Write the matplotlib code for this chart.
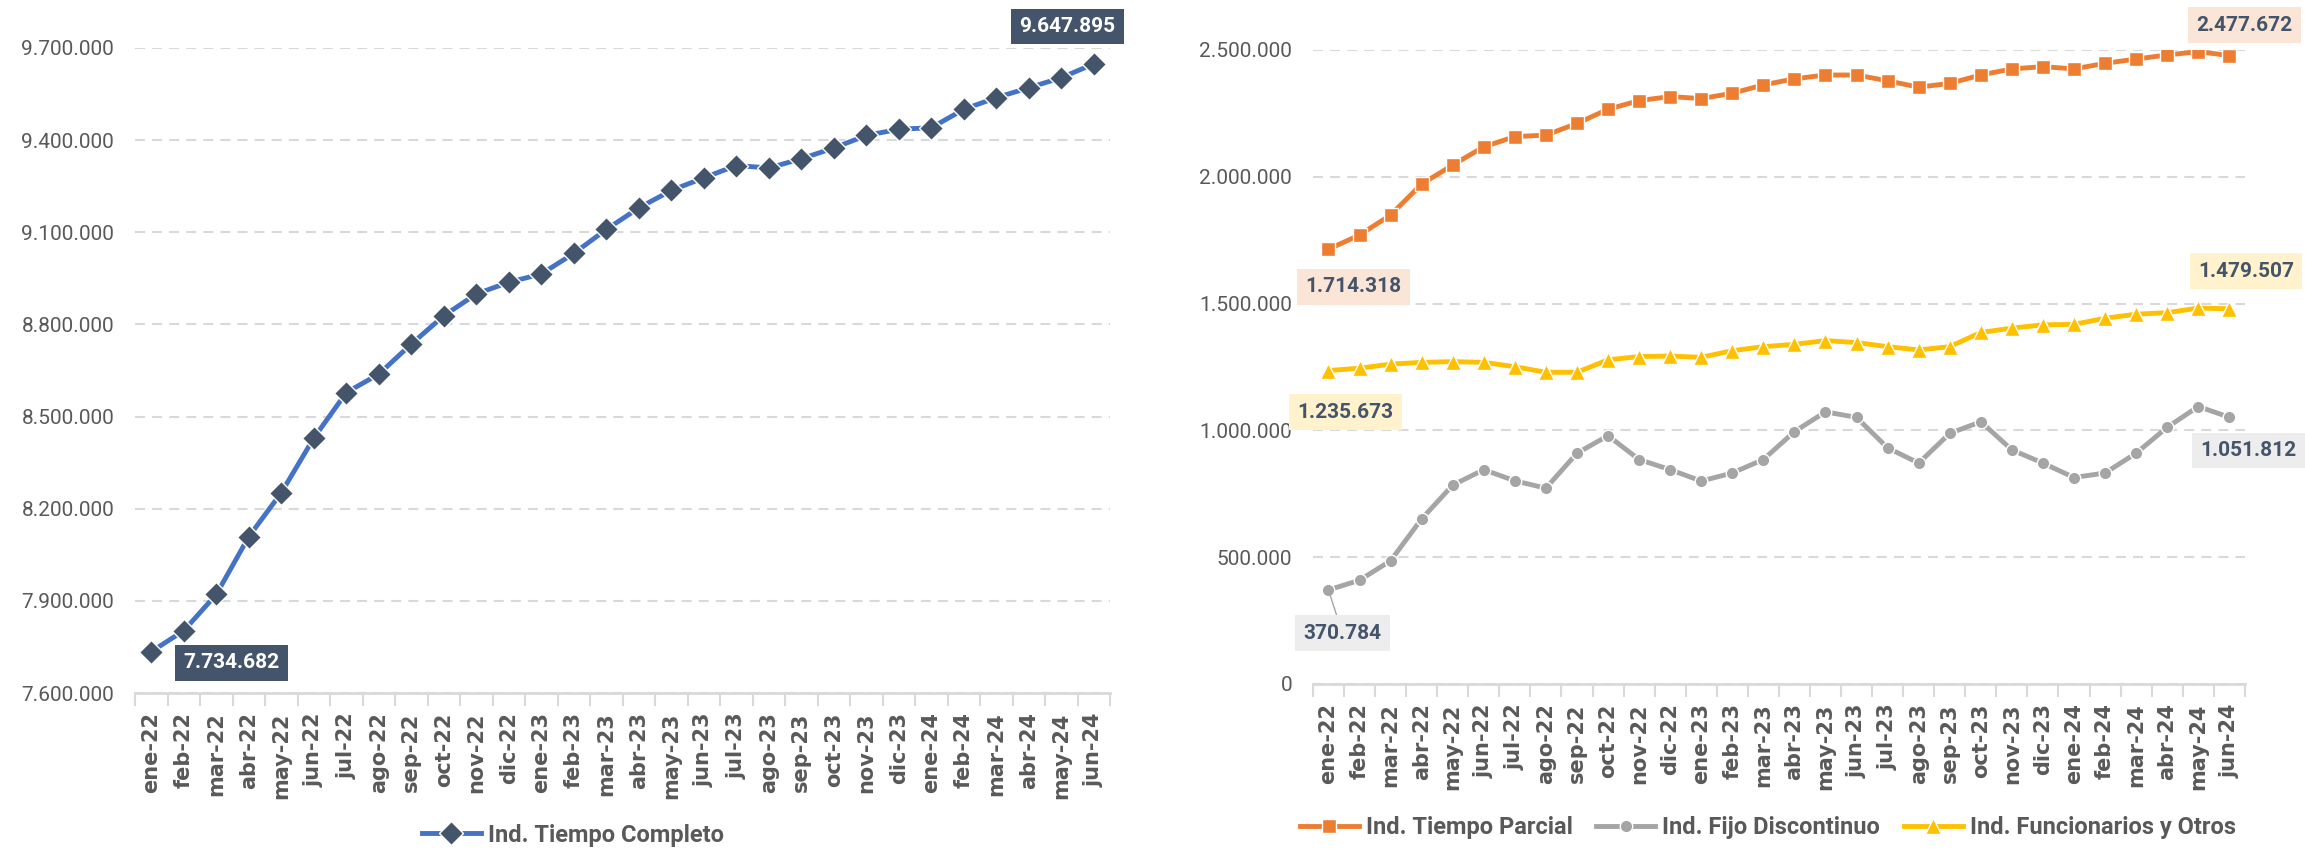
import numpy as np
import matplotlib.pyplot as plt
from matplotlib.ticker import FuncFormatter

meses = ['ene-22', 'feb-22', 'mar-22', 'abr-22', 'may-22', 'jun-22', 'jul-22', 'ago-22', 'sep-22', 'oct-22',
         'nov-22', 'dic-22', 'ene-23', 'feb-23', 'mar-23', 'abr-23', 'may-23', 'jun-23', 'jul-23', 'ago-23',
         'sep-23', 'oct-23', 'nov-23', 'dic-23', 'ene-24', 'feb-24', 'mar-24', 'abr-24', 'may-24', 'jun-24']

# valores (miles aproximados, extremos exactos)
tiempo_completo = [7734682, 7803000, 7921000, 8109000, 8252000, 8430000, 8578000, 8638000, 8736000, 8828000,
                   8899000, 8937000, 8964000, 9031000, 9109000, 9179000, 9236000, 9277000, 9317000, 9309000,
                   9339000, 9374000, 9415000, 9435000, 9440000, 9500000, 9538000, 9570000, 9603000, 9647895]

tiempo_parcial = [1714318, 1770000, 1849000, 1971000, 2046000, 2118000, 2158000, 2164000, 2210000, 2266000,
                  2300000, 2316000, 2308000, 2329000, 2362000, 2386000, 2401000, 2401000, 2378000, 2353000,
                  2368000, 2401000, 2425000, 2434000, 2425000, 2447000, 2464000, 2480000, 2493000, 2477672]

fijo_discontinuo = [370784, 409000, 486000, 651000, 784000, 845000, 801000, 772000, 910000, 979000,
                    885000, 845000, 800000, 832000, 885000, 995000, 1073000, 1051000, 931000, 871000,
                    988000, 1034000, 923000, 871000, 814000, 832000, 910000, 1012000, 1094000, 1051812]

funcionarios = [1235673, 1245000, 1261000, 1268000, 1271000, 1268000, 1251000, 1229000, 1229000, 1278000,
                1291000, 1293000, 1288000, 1314000, 1330000, 1339000, 1354000, 1346000, 1330000, 1317000,
                1330000, 1386000, 1403000, 1416000, 1418000, 1442000, 1458000, 1464000, 1482000, 1479507]

GRIS_TEXTO = '#595959'
GRIS_LINEA = '#D9D9D9'
NAVY = '#44546A'
FUENTE = 'Roboto'


def miles(v, pos=None):
    return f'{v:,.0f}'.replace(',', '.')


def estilo(ax, ymin, ymax, paso):
    n = len(meses)
    x = np.arange(n)
    ax.set_xlim(-0.5, n - 0.5)
    ax.set_ylim(ymin, ymax)
    ax.set_yticks(np.arange(ymin, ymax + 1, paso))
    ax.yaxis.set_major_formatter(FuncFormatter(miles))
    ax.grid(axis='y', color=GRIS_LINEA, linestyle=(0, (4.8, 3.4)), linewidth=1.5)
    ax.set_axisbelow(True)
    for s in ['top', 'right', 'left']:
        ax.spines[s].set_visible(False)
    ax.spines['bottom'].set_color(GRIS_LINEA)
    ax.spines['bottom'].set_linewidth(2)
    ax.set_xticks(x)
    ax.set_xticklabels(meses, rotation=90, fontsize=15, fontweight='bold', color=GRIS_TEXTO,
                       family='DejaVu Sans', ha='center', va='top')
    ax.set_xticks(np.arange(-0.5, n), minor=True)
    ax.tick_params(axis='x', which='major', length=0, pad=14)
    ax.tick_params(axis='x', which='minor', length=9, color=GRIS_LINEA, width=1.5)
    ax.tick_params(axis='y', length=0, pad=15, labelsize=15, labelcolor=GRIS_TEXTO)
    for t in ax.get_yticklabels():
        t.set_family(FUENTE)


def etiqueta(ax, i, serie, dx, dy, fondo, color_texto, linea=None):
    flecha = None
    if linea:
        flecha = dict(arrowstyle='-', color=linea, lw=1, shrinkA=0, shrinkB=4)
    ax.annotate(miles(serie[i]), xy=(i, serie[i]), xytext=(dx, dy), textcoords='offset points',
                ha='center', va='center', fontsize=15, fontweight='bold', family=FUENTE,
                color=color_texto, bbox=dict(boxstyle='square,pad=0.4', fc=fondo, ec='none'),
                arrowprops=flecha, annotation_clip=False, zorder=6)


leyenda = {'family': FUENTE, 'weight': 'bold', 'size': 17}

fig = plt.figure(figsize=(23.05, 8.5), dpi=100)
x = np.arange(len(meses))

# panel izquierdo
ax1 = fig.add_axes([0.0586, 0.1847, 0.423, 0.759])
estilo(ax1, 7600000, 9700000, 300000)
ax1.plot(x, tiempo_completo, color='#4472C4', lw=3.5, marker='D', ms=12, mfc=NAVY, mec='white', mew=1,
         label='Ind. Tiempo Completo', zorder=3)
etiqueta(ax1, 0, tiempo_completo, 58, -8, NAVY, 'white')
etiqueta(ax1, len(meses) - 1, tiempo_completo, -19, 27, NAVY, 'white')
ax1.legend(loc='center', bbox_to_anchor=(0.2486, 0.0176), bbox_transform=fig.transFigure, frameon=False,
           prop=leyenda, labelcolor=GRIS_TEXTO, handlelength=2.5, handletextpad=0.3)

# panel derecho
ax2 = fig.add_axes([0.5696, 0.1953, 0.4043, 0.746])
estilo(ax2, 0, 2500000, 500000)
ax2.plot(x, tiempo_parcial, color='#ED7D31', lw=3.5, marker='s', ms=10, mfc='#ED7D31', mec='white', mew=1,
         label='Ind. Tiempo Parcial', zorder=3)
ax2.plot(x, fijo_discontinuo, color='#A5A5A5', lw=3.5, marker='o', ms=9, mfc='#A5A5A5', mec='white', mew=1,
         label='Ind. Fijo Discontinuo', zorder=3)
ax2.plot(x, funcionarios, color='#FFC000', lw=3.5, marker='^', ms=11, mfc='#FFC000', mec='white', mew=1,
         label='Ind. Funcionarios y Otros', zorder=3)
ult = len(meses) - 1
etiqueta(ax2, 0, tiempo_parcial, 18, -27, '#FBE5D6', NAVY)
etiqueta(ax2, ult, tiempo_parcial, 11, 22, '#FBE5D6', NAVY)
etiqueta(ax2, 0, funcionarios, 12, -30, '#FFF2CC', NAVY)
etiqueta(ax2, ult, funcionarios, 12, 27, '#FFF2CC', NAVY)
etiqueta(ax2, 0, fijo_discontinuo, 10, -31, '#EDEDED', NAVY, linea='#A5A5A5')
etiqueta(ax2, ult, fijo_discontinuo, 14, -24, '#EDEDED', NAVY)
ax2.legend(loc='center', bbox_to_anchor=(0.767, 0.026), bbox_transform=fig.transFigure, frameon=False, ncol=3,
           prop=leyenda, labelcolor=GRIS_TEXTO, handlelength=2.5, handletextpad=0.3, columnspacing=1.0)

fig.savefig('out.png', dpi=100)
